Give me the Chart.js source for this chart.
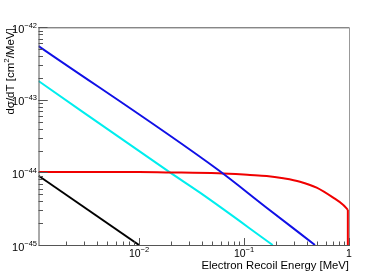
<!DOCTYPE html>
<html>
<head>
<meta charset="utf-8">
<script src="https://cdn.jsdelivr.net/npm/chart.js@4.4.1/dist/chart.umd.min.js"></script>
<style>
  html, body { margin: 0; padding: 0; background: #fff; }
  canvas { display: block; }
</style>
</head>
<body>
<canvas id="xsChart" width="388" height="273"></canvas>
<script>
// axis ranges (log-log)
const xMin = 1.104e-3, xMax = 1;
const yMin = 1e-45, yMax = 1e-42;

// curves: recoil energy T [MeV] and dσ/dT [cm²/MeV]
const blueT = [1.104e-3, 0.0569, 0.1585, 0.474];
const blueXS = [5.52e-43, 1.08e-44, 3.40e-45, 1.0e-45];

const cyanT = [1.104e-3, 0.0197, 0.0381, 0.1876];
const cyanXS = [1.82e-43, 1.0e-44, 5.26e-45, 1.0e-45];

const blackT = [1.104e-3, 0.01];
const blackXS = [9.0e-45, 1.0e-45];

const redT = [1.104e-3, 0.01, 0.0197, 0.0569, 0.114, 0.1644, 0.2367, 0.3414, 0.492, 0.708, 0.883, 0.975];
const redXS = [1.01e-44, 1.01e-44, 1.0e-44, 9.73e-45, 9.23e-45, 8.93e-45, 8.30e-45, 7.45e-45, 6.17e-45, 4.49e-45, 3.56e-45, 3.05e-45];
// endpoint drop of the red curve
const redEdgeT = [0.975, 0.975];
const redEdgeXS = [3.05e-45, 1e-46];

// tick labels
const yTickVals = [1e-42, 1e-43, 1e-44, 1e-45];
const yTickBase = ["10", "10", "10", "10"];
const yTickExp = ["\u221242", "\u221243", "\u221244", "\u221245"];
const xTickVals = [0.01, 0.1, 1];
const xTickBase = ["10", "10", "1"];
const xTickExp = ["\u22122", "\u22121", ""];

const xTitle = "Electron Recoil Energy [MeV]";

const FONT = "'Liberation Sans', Arial, Helvetica, sans-serif";

function pts(xs, ys) {
  return xs.map((x, i) => ({ x: x, y: ys[i] }));
}

function drawPower(ctx, base, exp, x, y, baseSize, expSize, align, rise) {
  ctx.font = baseSize + "px " + FONT;
  const wb = ctx.measureText(base).width;
  ctx.font = expSize + "px " + FONT;
  const we = exp ? ctx.measureText(exp).width : 0;
  const total = wb + we;
  const x0 = align === "right" ? x - total : x - total / 2;
  ctx.textAlign = "left";
  ctx.textBaseline = "alphabetic";
  ctx.font = baseSize + "px " + FONT;
  ctx.fillText(base, x0, y);
  if (exp) {
    ctx.font = expSize + "px " + FONT;
    ctx.fillText(exp, x0 + wb, y - rise);
  }
}

// ROOT-like frame, inward ticks and labels
const rootAxes = {
  id: "rootAxes",
  afterDraw(chart) {
    const { ctx, chartArea: a, scales } = chart;
    const xs = scales.x, ys = scales.y;
    ctx.save();
    ctx.lineWidth = 1;

    // frame
    ctx.strokeStyle = "#555";
    ctx.beginPath();
    ctx.moveTo(a.left, a.top + 0.5);
    ctx.lineTo(a.right, a.top + 0.5);
    ctx.stroke();
    ctx.strokeStyle = "#999";
    ctx.beginPath();
    ctx.moveTo(a.right + 0.5, a.top);
    ctx.lineTo(a.right + 0.5, a.bottom);
    ctx.stroke();
    ctx.strokeStyle = "#555";
    ctx.beginPath();
    ctx.moveTo(a.left + 0.5, a.top);
    ctx.lineTo(a.left + 0.5, a.bottom + 0.5);
    ctx.lineTo(a.right + 1, a.bottom + 0.5);
    ctx.stroke();

    // y ticks
    ctx.beginPath();
    for (let e = -45; e < -42; e++) {
      for (let k = 1; k <= 10; k++) {
        const v = k * Math.pow(10, e);
        if (v < yMin * 0.999 || v > yMax * 1.001) continue;
        const py = Math.round(ys.getPixelForValue(v)) + 0.5;
        const len = (k === 1 || k === 10) ? 9 : 4.5;
        ctx.moveTo(a.left, py);
        ctx.lineTo(a.left + len, py);
      }
    }
    // x ticks
    for (let e = -3; e < 0; e++) {
      for (let k = 1; k <= 10; k++) {
        const v = k * Math.pow(10, e);
        if (v < xMin || v > xMax * 1.001) continue;
        const px = Math.round(xs.getPixelForValue(v)) + 0.5;
        const len = (k === 1 || k === 10) ? 7 : 3.5;
        ctx.moveTo(px, a.bottom);
        ctx.lineTo(px, a.bottom - len);
      }
    }
    ctx.stroke();

    ctx.fillStyle = "#000";
    // y tick labels
    yTickVals.forEach((v, i) => {
      const py = ys.getPixelForValue(v);
      drawPower(ctx, yTickBase[i], yTickExp[i], 37, py + 5.5, 11, 7.5, "right", 5);
    });
    // x tick labels
    xTickVals.forEach((v, i) => {
      const px = xs.getPixelForValue(v);
      drawPower(ctx, xTickBase[i], xTickExp[i], px, 257, 10.5, 7.5, "center", 5.5);
    });

    // x title
    ctx.font = "11.3px " + FONT;
    ctx.textAlign = "right";
    ctx.textBaseline = "alphabetic";
    ctx.fillText(xTitle, a.right, 269);

    // y title: dσ/dT [cm²/MeV], right-aligned at the top of the axis
    ctx.translate(13.5, a.top + 1);
    ctx.rotate(-Math.PI / 2);
    const p1 = "d\u03c3/dT [cm", p2 = "2", p3 = "/MeV]";
    ctx.font = "11.5px " + FONT;
    const w1 = ctx.measureText(p1).width, w3 = ctx.measureText(p3).width;
    ctx.font = "8px " + FONT;
    const w2 = ctx.measureText(p2).width;
    let x0 = -(w1 + w2 + w3);
    ctx.textAlign = "left";
    ctx.font = "11.5px " + FONT;
    ctx.fillText(p1, x0, 0);
    ctx.font = "8px " + FONT;
    ctx.fillText(p2, x0 + w1, -4.5);
    ctx.font = "11.5px " + FONT;
    ctx.fillText(p3, x0 + w1 + w2, 0);

    ctx.restore();
  }
};

const smooth = { cubicInterpolationMode: "monotone" };

new Chart(document.getElementById("xsChart"), {
  type: "line",
  data: {
    datasets: [
      Object.assign({ label: "blue", data: pts(blueT, blueXS), borderColor: "#1010e6", order: 1 }, smooth),
      Object.assign({ label: "red", data: pts(redT, redXS), borderColor: "#f00000", order: 2 }, smooth),
      { label: "red edge", data: pts(redEdgeT, redEdgeXS), borderColor: "#f00000", order: 2 },
      Object.assign({ label: "cyan", data: pts(cyanT, cyanXS), borderColor: "#00eeee", order: 3 }, smooth),
      { label: "black", data: pts(blackT, blackXS), borderColor: "#000000", order: 4 },
    ].map(d => Object.assign(d, { borderWidth: 2, pointRadius: 0, fill: false })),
  },
  options: {
    responsive: false,
    animation: false,
    events: [],
    layout: { padding: { left: 38.5, top: 27.3, right: 39, bottom: 28 } },
    plugins: { legend: { display: false }, tooltip: { enabled: false } },
    scales: {
      x: { type: "logarithmic", min: xMin, max: xMax, display: false },
      y: { type: "logarithmic", min: yMin, max: yMax, display: false },
    },
  },
  plugins: [rootAxes],
});
</script>
</body>
</html>
